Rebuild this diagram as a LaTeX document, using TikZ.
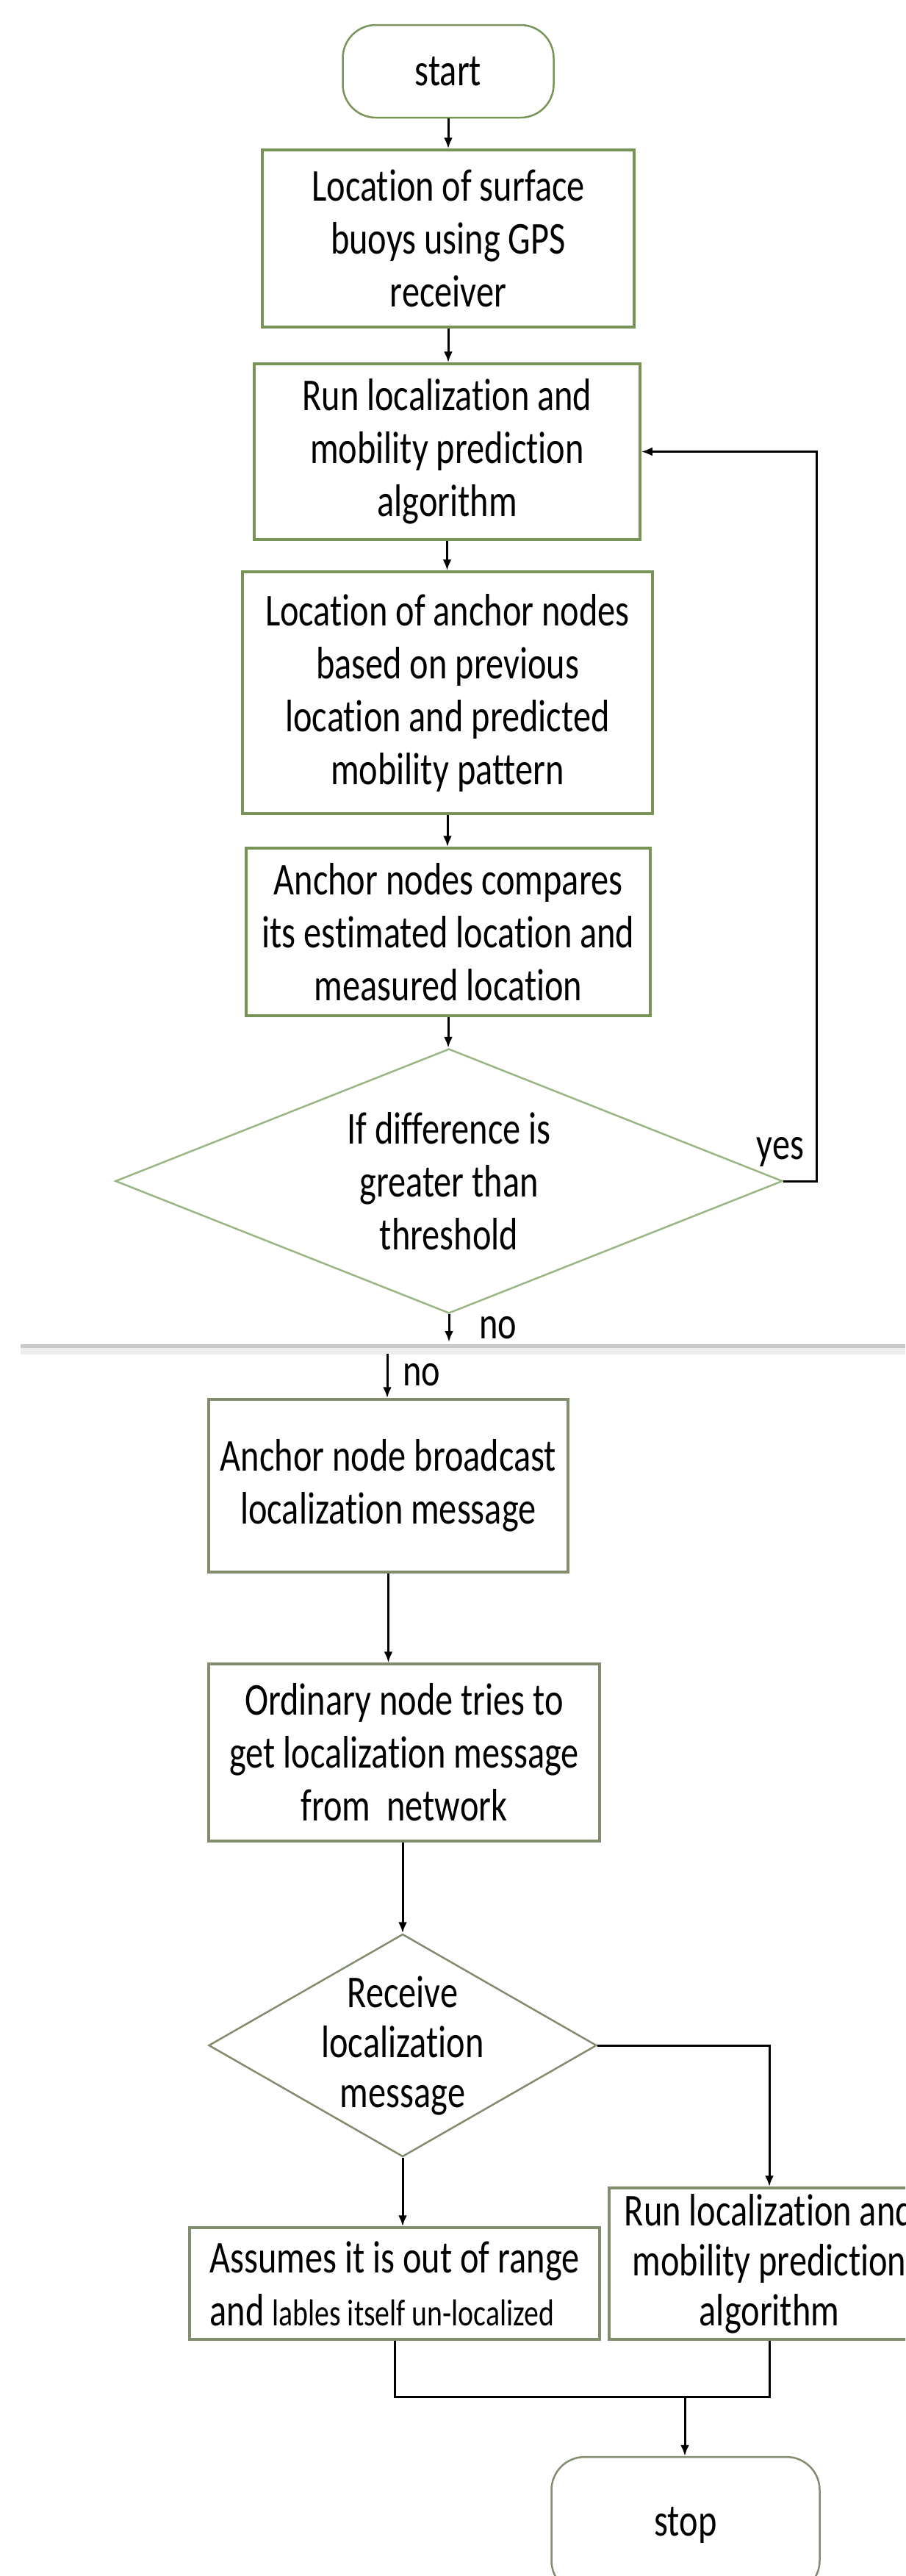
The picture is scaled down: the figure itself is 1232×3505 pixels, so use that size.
\documentclass[tikz,border=0pt]{standalone}
\usepackage{fontspec}
\setmainfont{Carlito}[FakeStretch=0.78, Ligatures=NoCommon]
\usepackage{tikz}
\usetikzlibrary{shapes.geometric,arrows.meta}

\definecolor{boxgreen}{RGB}{120,148,88}
\definecolor{lowgreen}{RGB}{130,140,110}
\definecolor{diagreen}{RGB}{155,182,132}
\definecolor{sepdark}{RGB}{200,200,200}
\definecolor{seplight}{RGB}{236,236,236}

\tikzset{
    stepbox/.style={draw=boxgreen, line width=3.5pt, align=center, inner sep=0pt},
    lowbox/.style={stepbox, draw=lowgreen},
    termbox/.style={draw=#1, line width=2.5pt, rounded corners=45pt},
    decision/.style={draw=#1, line width=2.5pt, diamond},
    flow/.style={line width=3pt, -{Latex[length=15pt,width=12pt]}},
    link/.style={line width=3pt}
}

\begin{document}
\begin{tikzpicture}[x=1pt, y=-1pt, font=\fontsize{62}{72}\selectfont]
        \useasboundingbox (0,0) rectangle (1232,3505);
        \clip (0,0) rectangle (1232,3505);
        \node[termbox=boxgreen, minimum width=287pt, minimum height=126pt] (start) at (610,97) {start};
        \node[stepbox, minimum width=506pt, minimum height=241pt] (gps) at (610,324.5) {Location of surface\\buoys using GPS\\receiver};
        \node[stepbox, minimum width=525pt, minimum height=239pt] (runalg) at (608.5,614.5) {Run localization and\\mobility prediction\\algorithm};
        \node[stepbox, minimum width=558pt, minimum height=329pt] (anchorloc) at (609,942.5) {Location of anchor nodes\\based on previous\\location and predicted\\mobility pattern};
        \node[stepbox, minimum width=550pt, minimum height=228pt] (compare) at (610,1268) {Anchor nodes compares\\its estimated location and\\measured location};
        \node[decision=diagreen, minimum width=908pt, minimum height=360pt] (check) at (611,1607) {};
        \node[align=center] (checktext) at (check) {If difference is\\greater than\\threshold};
        \node[anchor=base] (yes) at (1062,1577) {yes};
        \coordinate (noend) at (611,1826);
        \node[anchor=base west, inner sep=0pt] (nofirst) at (652,1821) {no};
        \fill[sepdark] (28,1829) rectangle (1232,1834);
        \fill[seplight] (28,1834) rectangle (1232,1843);
        \coordinate (nostart) at (527,1842);
        \node[anchor=base west, inner sep=0pt] (nosecond) at (548,1885) {no};
        \node[lowbox, minimum width=489pt, minimum height=235pt] (broadcast) at (528.5,2021.5) {Anchor node broadcast\\localization message};
        \node[lowbox, minimum width=532pt, minimum height=241pt] (ordinary) at (550,2384.5) {Ordinary node tries to\\get localization message\\from\ \ network};
        \node[decision=lowgreen, minimum width=528pt, minimum height=303pt] (recv) at (548,2783) {};
        \node[align=center, font=\fontsize{62}{68}\selectfont] (recvtext) at (recv) {Receive\\localization\\message};
        \node[lowbox, align=left, minimum width=558pt, minimum height=152pt] (outrange) at (537,3107) {Assumes it is out of range\\and {\fontsize{51}{60}\selectfont lables itself un-localized}};
        \node[lowbox, font=\fontsize{62}{68}\selectfont, minimum width=436pt, minimum height=206pt] (runalgb) at (1047,3080) {Run localization and\\mobility prediction\\algorithm};
        \coordinate (join) at (932,3261);
        \node[termbox=lowgreen, minimum width=365pt, minimum height=186pt] (stop) at (933,3436) {stop};
        \draw[flow] (start.south) -- (start.south |- gps.north);
        \draw[flow] (gps.south) -- (gps.south |- runalg.north);
        \draw[flow] (runalg.south) -- (runalg.south |- anchorloc.north);
        \draw[flow] (anchorloc.south) -- (anchorloc.south |- compare.north);
        \draw[flow] (compare.south) -- (compare.south |- check.north);
        \draw[flow] (check.east) -- ++(45,0) |- (runalg.east);
        \draw[flow] (check.south) -- (noend);
        \draw[flow] (nostart) -- (nostart |- broadcast.north);
        \draw[flow] (broadcast.south) -- (broadcast.south |- ordinary.north);
        \draw[flow] (recv.north |- ordinary.south) -- (recv.north);
        \draw[flow] (recv.south) -- (recv.south |- outrange.north);
        \draw[flow] (recv.east) -| (runalgb.north);
        \draw[link] (outrange.south) |- (join) -| (runalgb.south);
        \draw[flow] (join) -- (join |- stop.north);
    \end{tikzpicture}
\end{document}
